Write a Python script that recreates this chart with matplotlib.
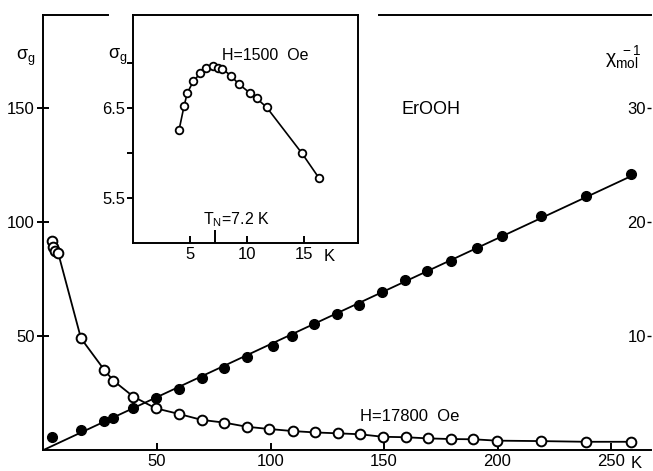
import numpy as np
import matplotlib
matplotlib.use("Agg")
import matplotlib.pyplot as plt

plt.rcParams['font.family'] = ['Liberation Sans', 'DejaVu Sans']
plt.rcParams['mathtext.fontset'] = 'custom'
plt.rcParams['mathtext.rm'] = 'Liberation Sans'
plt.rcParams['mathtext.it'] = 'Liberation Sans'
plt.rcParams['font.size'] = 12

# sigma_g (open circles, left axis), H = 17800 Oe
t_sig = [3.6, 4.3, 5.1, 6.5, 16.5, 26.8, 30.8, 39.6, 49.4, 59.7, 69.7, 79.7, 89.5,
         99.5, 109.8, 119.6, 129.9, 139.4, 149.4, 159.5, 169.2, 179.5, 189.3,
         199.6, 219.2, 238.9, 259.0]
sig = [91.8, 89.2, 87.4, 86.3, 49.0, 35.1, 30.4, 23.4, 18.3, 15.8, 13.2, 12.0, 10.2,
       9.2, 8.3, 7.7, 7.3, 6.9, 5.8, 5.6, 5.1, 4.8, 4.7, 4.1, 3.9, 3.6, 3.6]

# inverse molar susceptibility (filled circles, right axis)
t_chi = [3.6, 16.5, 26.8, 30.8, 39.6, 49.4, 59.7, 69.7, 79.7, 89.5, 101.2, 109.3,
         119.3, 129.4, 139.1, 149.0, 159.3, 169.1, 179.5, 191.1, 201.9, 219.0,
         238.9, 258.9]
chi_inv = [1.12, 1.76, 2.54, 2.78, 3.72, 4.54, 5.36, 6.34, 7.22, 8.12, 9.12, 10.02,
           11.02, 11.92, 12.72, 13.84, 14.92, 15.72, 16.6, 17.7, 18.8, 20.52,
           22.28, 24.18]

# inset: sigma_g at H = 1500 Oe
t_low = [4.04, 4.47, 4.76, 5.29, 5.9, 6.4, 7.05, 7.48, 7.83, 8.6, 9.27, 10.26,
         10.85, 11.73, 14.82, 16.34]
sig_low = [6.26, 6.52, 6.67, 6.80, 6.89, 6.95, 6.97, 6.95, 6.94, 6.86, 6.77, 6.67,
           6.61, 6.51, 6.00, 5.72]

LW = 1.4

fig = plt.figure(figsize=(6.53, 4.71), dpi=100)
ax = fig.add_axes([0.0666, 0.0446, 0.9303, 0.9236])
ax.set_xlim(0, 267.6)
ax.set_ylim(0, 190.8)
for s in ['top', 'right']:
    ax.spines[s].set_visible(False)
for s in ['left', 'bottom']:
    ax.spines[s].set_linewidth(LW)
ax.set_xticks([50, 100, 150, 200, 250])
ax.set_yticks([50, 100, 150])
ax.tick_params(axis='x', direction='in', length=5, width=LW, pad=3)
ax.tick_params(axis='y', direction='inout', length=9, width=LW, pad=2)

# broken top frame line as in the print
ax.plot([0, 0.106], [1, 1], transform=ax.transAxes, color='k', lw=LW, clip_on=False)
ax.plot([0.553, 1.0], [1, 1], transform=ax.transAxes, color='k', lw=LW, clip_on=False)

ax.plot(t_sig, sig, color='k', lw=1.3, zorder=2)
ax.plot(t_sig, sig, 'o', ms=7, mfc='white', mec='k', mew=1.4, zorder=3)

ax2 = ax.twinx()
ax2.set_ylim(0, 190.8 / 5)
for s in ['top', 'right', 'left', 'bottom']:
    ax2.spines[s].set_visible(False)
ax2.set_yticks([10, 20, 30])
ax2.tick_params(axis='y', direction='in', length=3, width=1.0, pad=-17)

tc = np.array(t_chi)
slope = np.sum(tc * np.array(chi_inv)) / np.sum(tc ** 2)
ax2.plot([0, tc[-1]], [0, slope * tc[-1]], color='k', lw=1.3, zorder=2)
ax2.plot(t_chi, chi_inv, 'o', ms=7, mfc='k', mec='k', zorder=3)

ax.text(-0.029, 0.901, r'σ$_\mathrm{g}$', transform=ax.transAxes, ha='center', va='center', fontsize=13)
ax.text(0.954, 0.903, r'$\chi_\mathrm{mol}^{\ -1}$', transform=ax.transAxes, ha='center', va='center', fontsize=14)
ax.text(0.638, 0.782, 'ErOOH', transform=ax.transAxes, ha='center', va='center', fontsize=13)
ax.text(139.6, 14.5, 'H=17800  Oe', ha='left', va='center', fontsize=12)
ax.text(0.975, -0.03, 'K', transform=ax.transAxes, ha='center', va='center', fontsize=12)

# inset
ins = fig.add_axes([0.2037, 0.4841, 0.3446, 0.4841])
ins.set_facecolor('white')
ins.set_xlim(0, 19.74)
ins.set_ylim(5.003, 7.537)
for s in ins.spines.values():
    s.set_linewidth(LW)
ins.set_xticks([5, 10, 15])
ins.set_xticks([7.2], minor=True)
ins.set_yticks([5.5, 6.5])
ins.set_yticks([6.0, 7.0], minor=True)
ins.tick_params(axis='x', which='major', direction='in', length=5, width=LW, pad=3)
ins.tick_params(axis='x', which='minor', direction='in', length=9.5, width=LW)
ins.tick_params(axis='y', which='both', direction='out', length=4.5, width=LW, pad=1)
ins.plot(t_low, sig_low, color='k', lw=1.2, zorder=2)
ins.plot(t_low, sig_low, 'o', ms=5.5, mfc='white', mec='k', mew=1.3, zorder=3)
ins.text(-0.07, 0.816, r'σ$_\mathrm{g}$', transform=ins.transAxes, ha='center', va='center', fontsize=13)
ins.text(7.8, 7.09, 'H=1500  Oe', ha='left', va='center', fontsize=11.5)
ins.text(6.1, 5.26, r'T$_\mathrm{N}$=7.2 K', ha='left', va='center', fontsize=11.5)
ins.text(0.871, -0.061, 'K', transform=ins.transAxes, ha='center', va='center', fontsize=12)

fig.savefig('out.png', dpi=100)
